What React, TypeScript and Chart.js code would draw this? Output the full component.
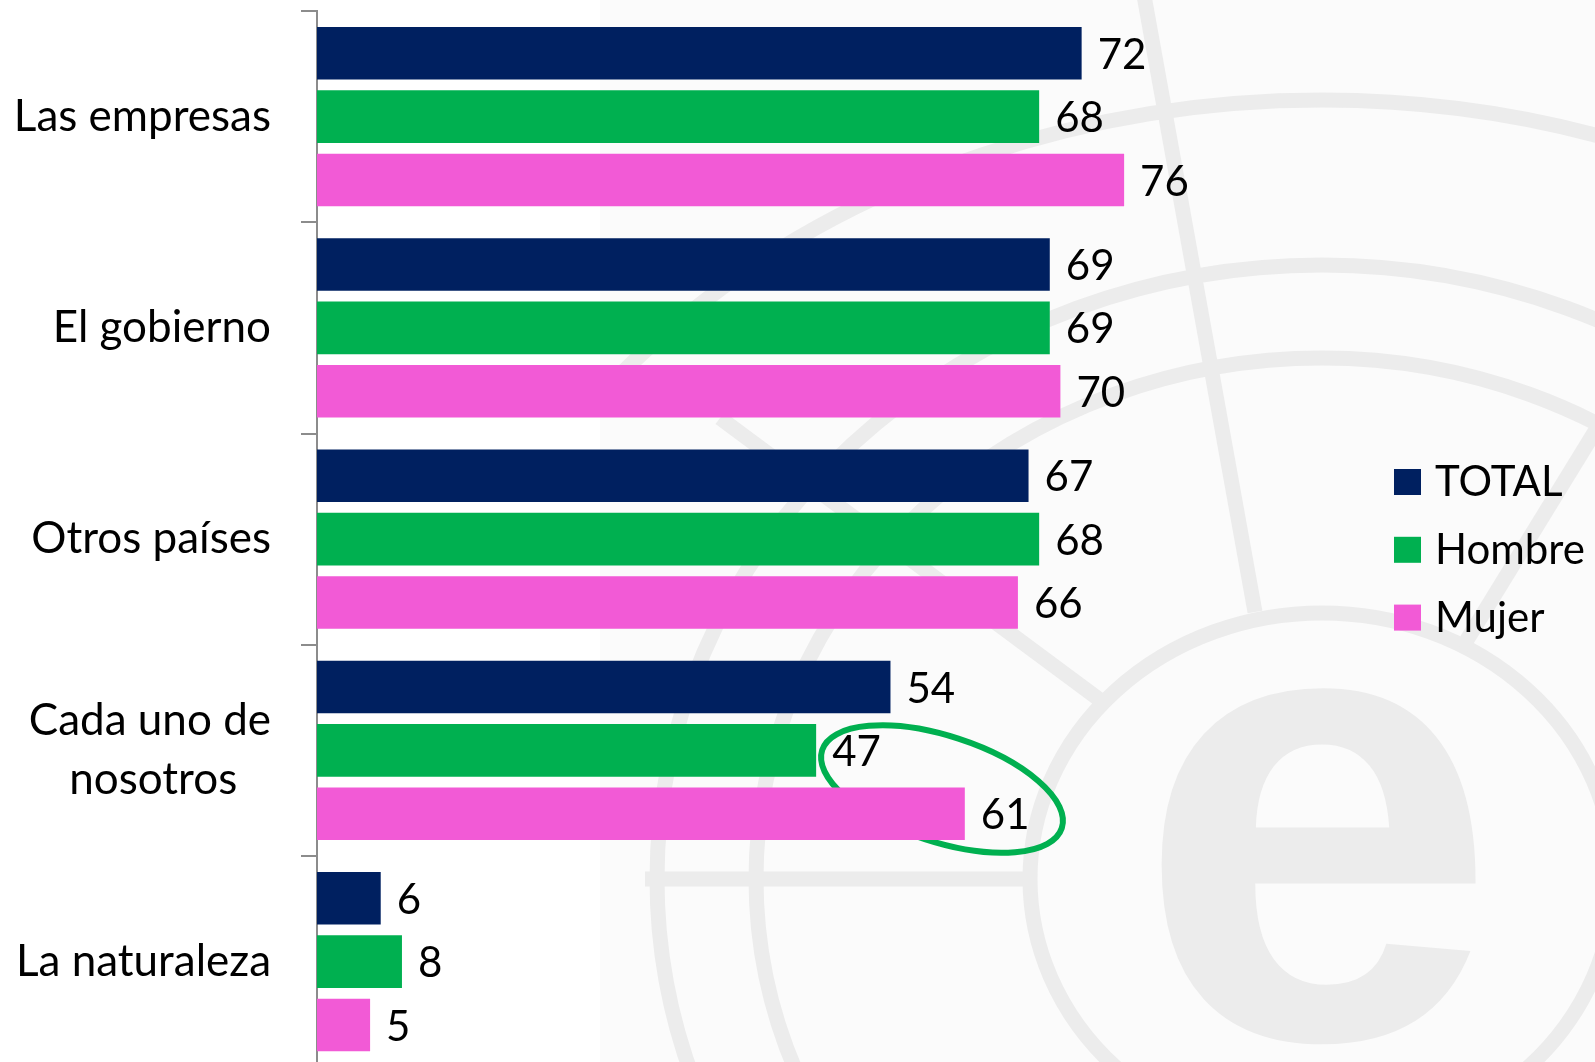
import React, { useEffect, useRef } from 'react';
import { Chart, registerables } from 'chart.js';

Chart.register(...registerables);

// ---------- data ----------
const categories: (string | string[])[] = [
  'Las empresas',
  'El gobierno',
  'Otros países',
  ['Cada uno de', 'nosotros'],
  'La naturaleza',
];
const seriesLabels = ['TOTAL', 'Hombre', 'Mujer'];
const totalValues = [72, 69, 67, 54, 6];
const hombreValues = [68, 69, 68, 47, 8];
const mujerValues = [76, 70, 66, 61, 5];
const seriesColors = ['#002060', '#00B050', '#F25AD6'];
const xMin = 0;
const xMax = 100;
// highlighted pair (Hombre vs Mujer in "Cada uno de nosotros")
const highlightCategory = 3;
const highlightCenterValue = 58.85;

// ---------- layout / style ----------
const W = 1595;
const H = 1062;
const CANVAS_H = 1080;
const FONT = 'Lato, "Open Sans", "DejaVu Sans", sans-serif';
const LABEL_SIZE = 44;

function padCentered(lines: string[], size: number): string[] {
  const c = document.createElement('canvas').getContext('2d');
  if (!c) return lines;
  c.font = `${size}px ${FONT}`;
  const widths = lines.map((l) => c.measureText(l).width);
  const max = Math.max(...widths);
  const sp = c.measureText('\u00a0').width || 1;
  return lines.map((l, i) => l + '\u00a0'.repeat(Math.round((max - widths[i]) / 2 / sp)));
}

const watermarkPlugin = {
  id: 'watermark',
  beforeDraw(chart: any) {
    const { ctx, width, height } = chart;
    const x0 = 600;
    ctx.save();
    ctx.fillStyle = '#ffffff';
    ctx.fillRect(0, 0, width, height);
    ctx.fillStyle = '#fbfbfb';
    ctx.fillRect(x0, 0, width - x0, height);
    ctx.beginPath();
    ctx.rect(x0, 0, width - x0, height);
    ctx.clip();
    ctx.strokeStyle = '#ececec';
    ctx.lineWidth = 15;
    const cx = 1322;
    const cy = 879;
    const rings = [
      [921, 779],
      [665, 614],
      [566, 521],
      [292, 266],
    ];
    for (const [rx, ry] of rings) {
      ctx.beginPath();
      ctx.ellipse(cx, cy, rx, ry, 0, 0, Math.PI * 2);
      ctx.stroke();
    }
    const segs = [
      [1143, -10, 1255, 612],
      [720, 418, 1100, 700],
      [1605, 415, 1462, 648],
      [645, 879, 1030, 879],
    ];
    for (const [a, b, c, d] of segs) {
      ctx.beginPath();
      ctx.moveTo(a, b);
      ctx.lineTo(c, d);
      ctx.stroke();
    }
    ctx.fillStyle = '#ececec';
    ctx.font = 'bold 650px "Liberation Sans", Arial, sans-serif';
    ctx.textAlign = 'center';
    ctx.textBaseline = 'alphabetic';
    ctx.fillText('e', 1317, 1038);
    ctx.restore();
  },
};

const ellipsePlugin = {
  id: 'highlightEllipse',
  beforeDatasetsDraw(chart: any) {
    const { ctx } = chart;
    const hBar = chart.getDatasetMeta(1).data[highlightCategory];
    const mBar = chart.getDatasetMeta(2).data[highlightCategory];
    if (!hBar || !mBar) return;
    const cx = chart.scales.x.getPixelForValue(highlightCenterValue);
    const cy = hBar.y + (mBar.y - hBar.y) * 0.61;
    ctx.save();
    ctx.strokeStyle = '#00B050';
    ctx.lineWidth = 6;
    ctx.beginPath();
    ctx.ellipse(cx, cy, 126, 53, (18 * Math.PI) / 180, 0, Math.PI * 2);
    ctx.stroke();
    ctx.restore();
  },
};

const valueLabelPlugin = {
  id: 'valueLabels',
  afterDatasetsDraw(chart: any) {
    const { ctx } = chart;
    ctx.save();
    ctx.font = `42px ${FONT}`;
    ctx.fillStyle = '#000000';
    ctx.textAlign = 'left';
    ctx.textBaseline = 'middle';
    chart.data.datasets.forEach((ds: any, di: number) => {
      const meta = chart.getDatasetMeta(di);
      meta.data.forEach((bar: any, i: number) => {
        ctx.fillText(String(ds.data[i]), bar.x + 16, bar.y + 2);
      });
    });
    ctx.restore();
  },
};

const sideLegendPlugin = {
  id: 'sideLegend',
  afterDraw(chart: any) {
    const { ctx, chartArea } = chart;
    const x = chartArea.right + 15;
    const y0 = chartArea.top + 458;
    const step = 67.8;
    ctx.save();
    ctx.font = `42px ${FONT}`;
    ctx.textAlign = 'left';
    ctx.textBaseline = 'alphabetic';
    chart.data.datasets.forEach((ds: any, i: number) => {
      const y = y0 + i * step;
      ctx.fillStyle = ds.backgroundColor;
      ctx.fillRect(x, y, 27, 26);
      ctx.fillStyle = '#000000';
      ctx.fillText(ds.label, x + 41, y + 27);
    });
    ctx.restore();
  },
};

export default function App() {
  const ref = useRef<HTMLCanvasElement>(null);

  useEffect(() => {
    const canvas = ref.current;
    if (!canvas) return;
    const seriesValues = [totalValues, hombreValues, mujerValues];
    const chart = new Chart(canvas, {
      type: 'bar',
      data: {
        labels: categories as any,
        datasets: seriesLabels.map((label, i) => ({
          label,
          data: seriesValues[i],
          backgroundColor: seriesColors[i],
          borderWidth: 0,
          barPercentage: 0.832,
          categoryPercentage: 0.9,
        })),
      },
      options: {
        indexAxis: 'y',
        responsive: false,
        animation: false,
        events: [],
        layout: { padding: { top: 11, bottom: 12.75, left: 0, right: 216 } },
        plugins: {
          legend: { display: false },
          tooltip: { enabled: false },
        },
        scales: {
          x: {
            display: false,
            min: xMin,
            max: xMax,
          },
          y: {
            afterFit: (s: any) => {
              s.width = 317;
              s.paddingTop = 0;
              s.paddingBottom = 0;
            },
            grid: {
              offset: true,
              drawOnChartArea: false,
              drawTicks: true,
              tickLength: 16,
              color: '#8c8c8c',
              lineWidth: 2,
            },
            border: { display: true, color: '#8c8c8c', width: 2 },
            ticks: {
              color: '#000000',
              padding: 30,
              autoSkip: false,
              font: { family: FONT, size: LABEL_SIZE, lineHeight: 1.34 },
              callback: (_v: any, index: number) => {
                const l = categories[index];
                return Array.isArray(l) ? padCentered(l, LABEL_SIZE) : l;
              },
            },
          },
        },
      },
      plugins: [watermarkPlugin, ellipsePlugin, valueLabelPlugin, sideLegendPlugin],
    } as any);
    return () => chart.destroy();
  }, []);

  return (
    <div
      style={{
        position: 'absolute',
        left: 0,
        top: 0,
        width: W,
        height: H,
        overflow: 'hidden',
        background: '#ffffff',
      }}
    >
      <canvas ref={ref} width={W} height={CANVAS_H} style={{ display: 'block', width: W, height: CANVAS_H }} />
    </div>
  );
}
